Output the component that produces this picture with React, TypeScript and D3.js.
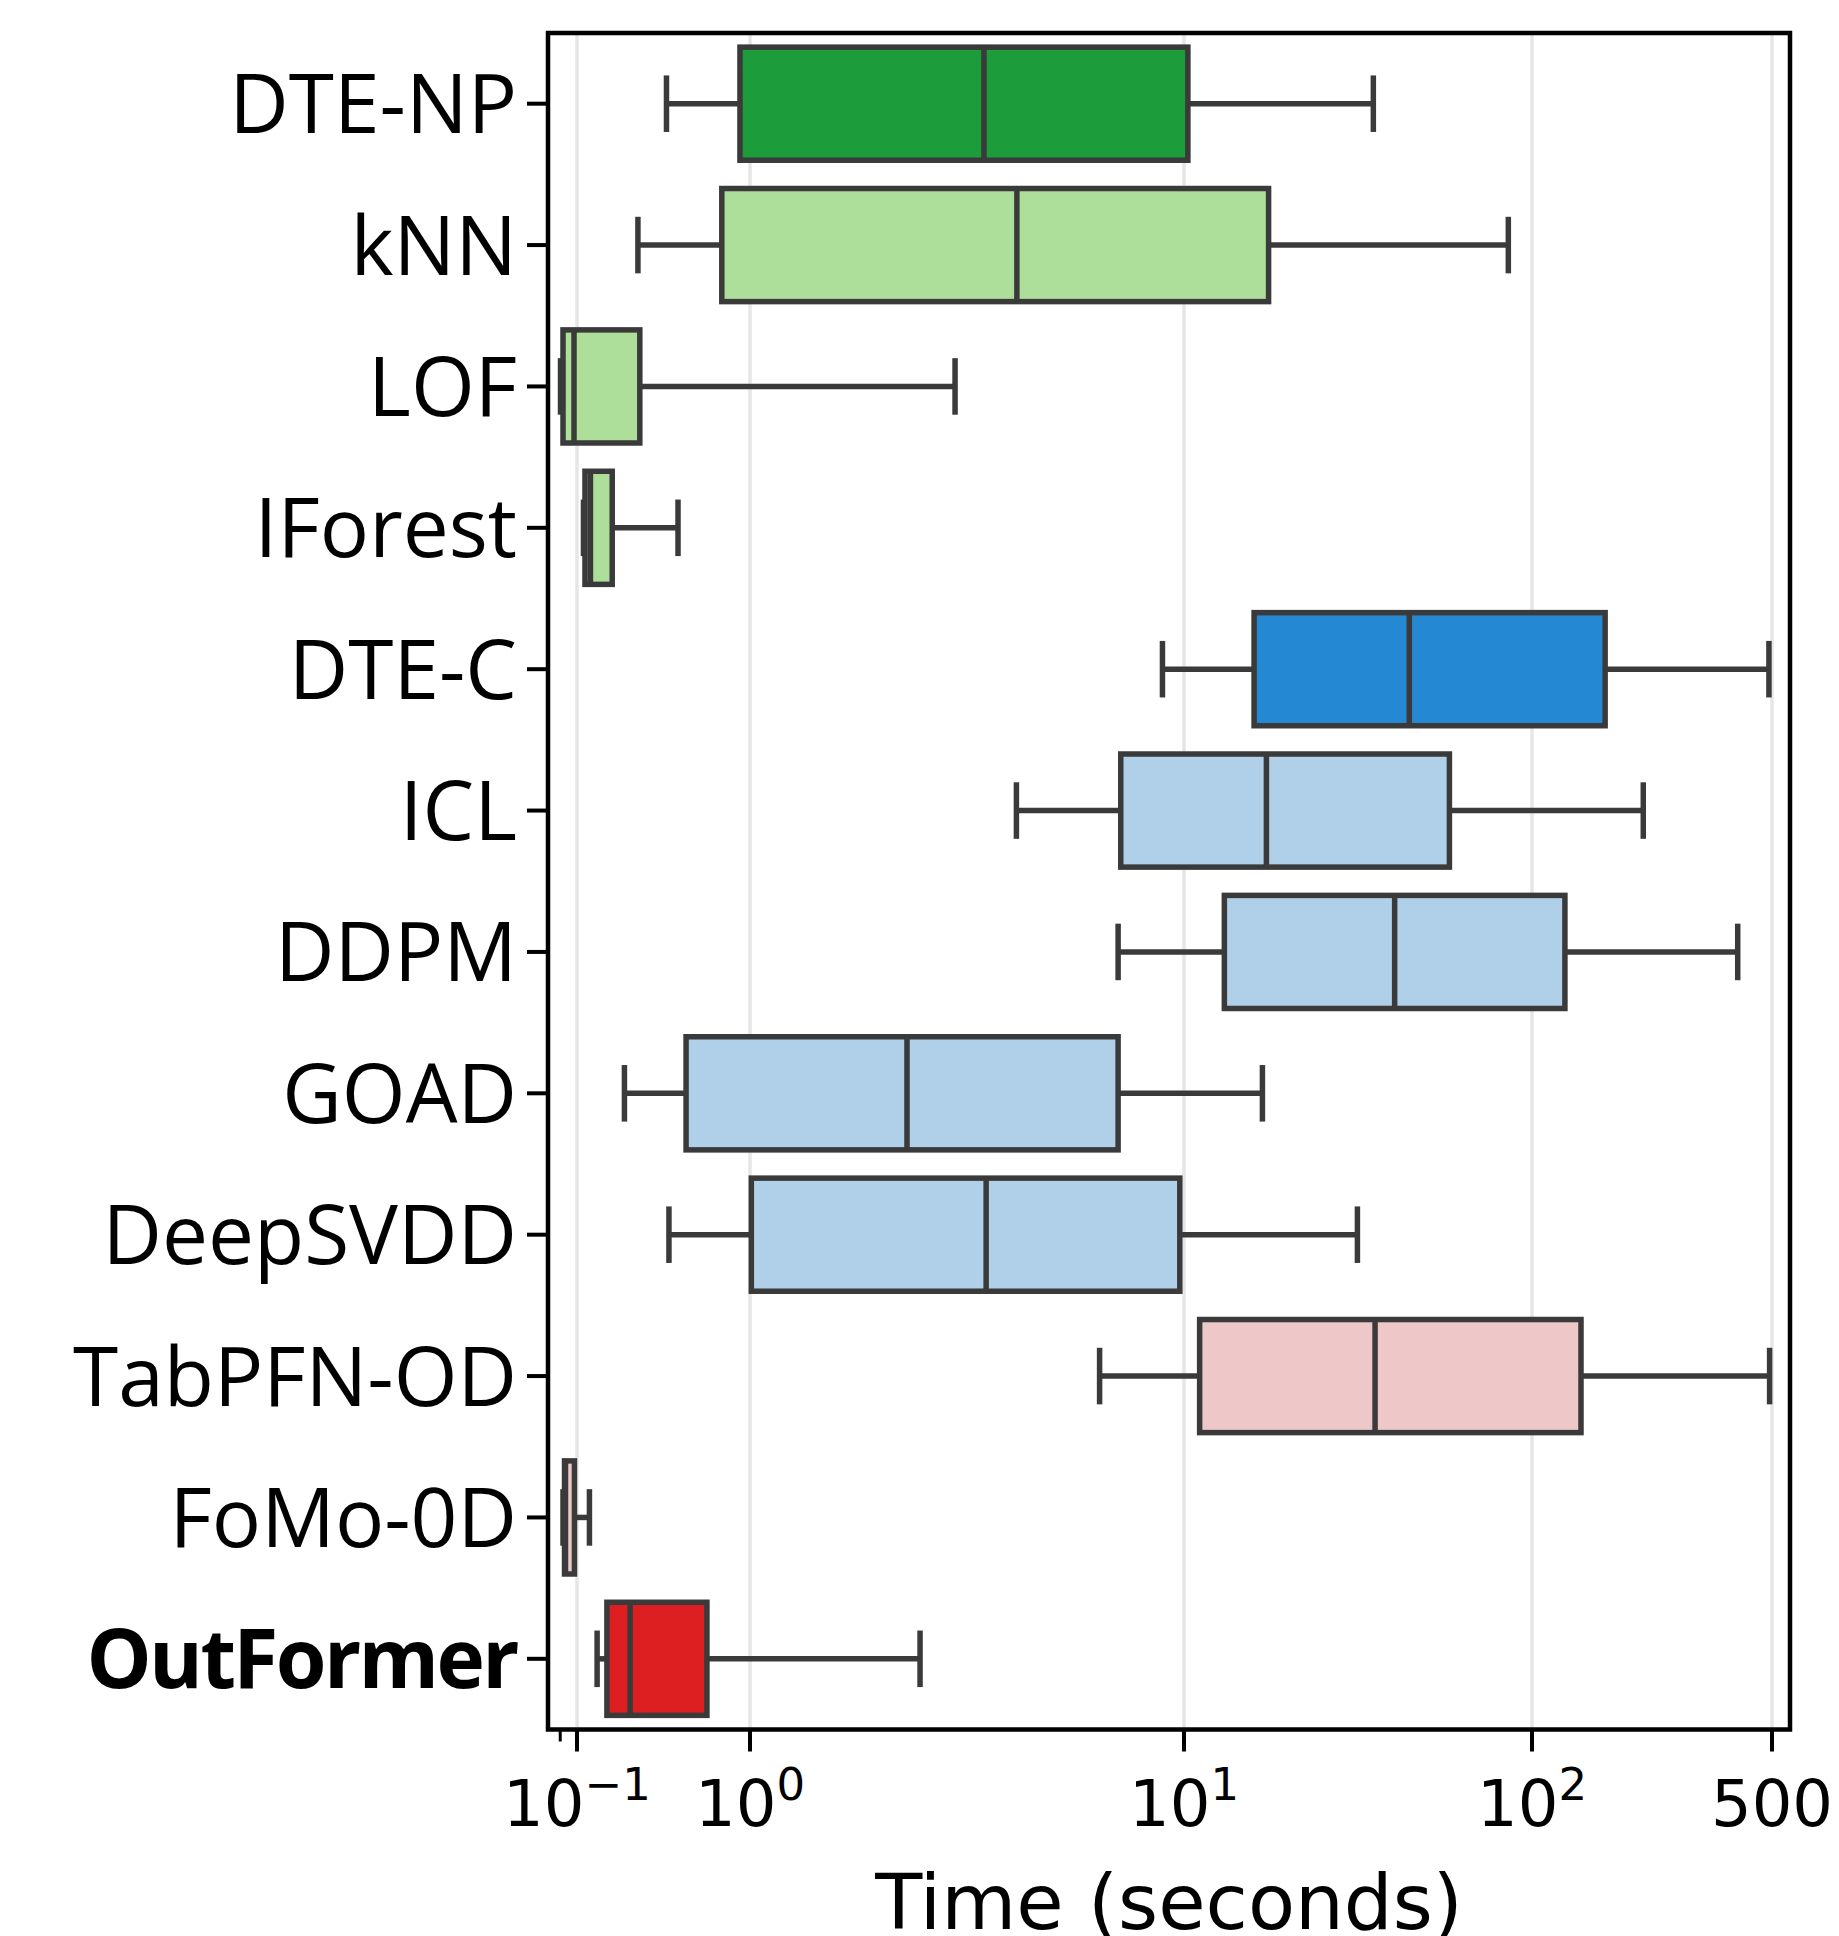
import React from 'react';
import * as d3 from 'd3';

// ---- data (seconds) ----
const methods = ['DTE-NP', 'kNN', 'LOF', 'IForest', 'DTE-C', 'ICL', 'DDPM', 'GOAD', 'DeepSVDD', 'TabPFN-OD', 'FoMo-0D', 'OutFormer'];
const whiskerLow = [0.329, 0.225, 0.0803, 0.109, 8.92, 4.11, 7.05, 0.188, 0.34, 6.39, 0.083, 0.1307];
const q1 = [0.875, 0.687, 0.083, 0.1112, 15.9, 7.15, 13.06, 0.427, 1.007, 11.09, 0.0847, 0.1489];
const median = [3.46, 4.12, 0.0961, 0.1196, 44.4, 17.25, 40.3, 2.3, 3.5, 35.4, 0.0858, 0.2028];
const q3 = [10.26, 17.5, 0.2307, 0.1598, 163.3, 57.9, 124.7, 7.05, 9.78, 138.9, 0.0967, 0.5636];
const whiskerHigh = [35.0, 85.5, 2.968, 0.3836, 489.8, 210.9, 397.3, 16.8, 31.5, 492, 0.118, 2.465];
const fillColors = ['#1d9c3c', '#addf9a', '#addf9a', '#addf9a', '#2488d3', '#afd0e8', '#afd0e8', '#afd0e8', '#afd0e8', '#eec8c8', '#eec8c8', '#de1f21'];
const boldLabels = ['OutFormer'];

const xTickValues = [0.1, 1, 10, 100, 500];
const xTickBase = ['10', '10', '10', '10', '500'];
const xTickExp = ['\u22121', '0', '1', '2', ''];
const xMinorTicks = [0.08];
const xLabel = 'Time (seconds)';

// ---- layout ----
const WIDTH = 1839;
const HEIGHT = 1936;
const plotLeft = 548;
const plotRight = 1790;
const plotTop = 33;
const plotBottom = 1729.5;
// relative positions of the major ticks along the axis (custom axis transform)
const tickFractions = [0.02335, 0.16264, 0.51208, 0.79227, 0.98551];

const LINE = '#3a3a3a';

export default function App() {
  const W = plotRight - plotLeft;
  const posScale = d3
    .scaleLinear()
    .domain(xTickValues.map((v) => Math.log10(v)))
    .range(tickFractions.map((f) => plotLeft + f * W));
  const x = (v: number) => posScale(Math.log10(v));

  const y = d3.scaleBand<string>().domain(methods).range([plotTop, plotBottom]).padding(0);
  const bw = y.bandwidth();
  const boxH = bw * 0.8;
  const capH = boxH * 0.5;
  const sw = 5.5;

  return (
    <svg
      width={WIDTH}
      height={HEIGHT}
      style={{ position: 'absolute', left: 0, top: 0, background: '#fff' }}
    >
      <rect x={0} y={0} width={WIDTH} height={HEIGHT} fill="#fff" />
      {/* grid */}
      {xTickValues.map((v, i) => (
        <line key={'g' + i} x1={x(v)} x2={x(v)} y1={plotTop} y2={plotBottom} stroke="#e6e6e6" strokeWidth={3.5} />
      ))}
      {/* boxes */}
      {methods.map((m, i) => {
        const cy = (y(m) as number) + bw / 2;
        const xl = x(whiskerLow[i]);
        const x1 = x(q1[i]);
        const xm = x(median[i]);
        const x3 = x(q3[i]);
        const xh = x(whiskerHigh[i]);
        return (
          <g key={m}>
            <line x1={xl} x2={x1} y1={cy} y2={cy} stroke={LINE} strokeWidth={sw} />
            <line x1={x3} x2={xh} y1={cy} y2={cy} stroke={LINE} strokeWidth={sw} />
            <line x1={xl} x2={xl} y1={cy - capH / 2} y2={cy + capH / 2} stroke={LINE} strokeWidth={sw} />
            <line x1={xh} x2={xh} y1={cy - capH / 2} y2={cy + capH / 2} stroke={LINE} strokeWidth={sw} />
            <rect
              x={x1}
              y={cy - boxH / 2}
              width={x3 - x1}
              height={boxH}
              fill={fillColors[i]}
              stroke={LINE}
              strokeWidth={sw}
            />
            <line x1={xm} x2={xm} y1={cy - boxH / 2} y2={cy + boxH / 2} stroke={LINE} strokeWidth={sw} />
          </g>
        );
      })}
      {/* frame */}
      <rect
        x={plotLeft}
        y={plotTop}
        width={plotRight - plotLeft}
        height={plotBottom - plotTop}
        fill="none"
        stroke="#000"
        strokeWidth={4.5}
      />
      {/* y ticks + labels */}
      {methods.map((m) => {
        const cy = (y(m) as number) + bw / 2;
        const bold = boldLabels.includes(m);
        return (
          <g key={'yt' + m}>
            <line x1={plotLeft - 21} x2={plotLeft} y1={cy} y2={cy} stroke="#000" strokeWidth={4} />
            <text
              x={plotLeft - 31}
              y={cy + 29.5}
              textAnchor="end"
              fontFamily="'Open Sans', 'Noto Sans', sans-serif"
              fontSize={82}
              fontWeight={bold ? 700 : 400}
              letterSpacing={bold ? -2.6 : 0}
              fill="#000"
            >
              {m}
            </text>
          </g>
        );
      })}
      {/* x ticks */}
      {xTickValues.map((v, i) => (
        <g key={'xt' + i}>
          <line x1={x(v)} x2={x(v)} y1={plotBottom} y2={plotBottom + 22} stroke="#000" strokeWidth={4} />
          <text
            x={x(v)}
            y={1826}
            textAnchor="middle"
            fontFamily="'DejaVu Sans', sans-serif"
            fontSize={64}
            fill="#000"
          >
            {xTickBase[i]}
            {xTickExp[i] ? (
              <tspan fontSize={45} dy={-26}>
                {xTickExp[i]}
              </tspan>
            ) : null}
          </text>
        </g>
      ))}
      {xMinorTicks.map((v, i) => (
        <line key={'mt' + i} x1={x(v)} x2={x(v)} y1={plotBottom} y2={plotBottom + 12} stroke="#000" strokeWidth={3} />
      ))}
      <text
        x={(plotLeft + plotRight) / 2}
        y={1929}
        textAnchor="middle"
        fontFamily="'DejaVu Sans', sans-serif"
        fontSize={77}
        fill="#000"
      >
        {xLabel}
      </text>
    </svg>
  );
}
